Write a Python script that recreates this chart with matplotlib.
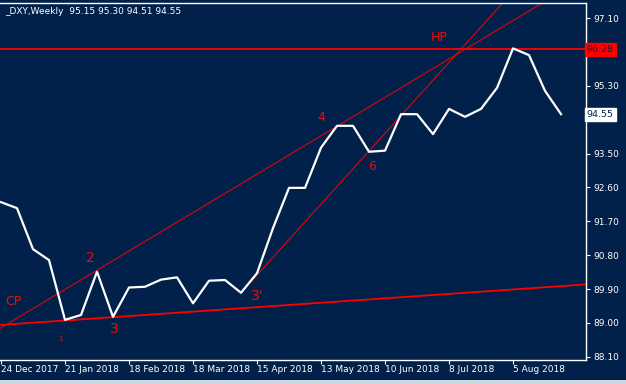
import numpy as np
import matplotlib.pyplot as plt
from matplotlib.patches import Rectangle

# Weekly DXY closes, week 0 = 24 Dec 2017
closes = [92.21, 92.05, 90.96, 90.67, 89.08, 89.21, 90.36, 89.16, 89.94, 89.96,
          90.15, 90.21, 89.52, 90.12, 90.14, 89.80, 90.32, 91.52, 92.59, 92.59,
          93.66, 94.24, 94.24, 93.55, 93.58, 94.55, 94.55, 94.02, 94.69, 94.48,
          94.69, 95.25, 96.30, 96.12, 95.17, 94.55]
date_labels = ["24 Dec 2017", "21 Jan 2018", "18 Feb 2018", "18 Mar 2018", "15 Apr 2018",
               "13 May 2018", "10 Jun 2018", "8 Jul 2018", "5 Aug 2018"]
price_ticks = [88.10, 89.00, 89.90, 90.80, 91.70, 92.60, 93.50, 94.40, 95.30, 96.20, 97.10]
# 94.40 and 96.20 sit under the price boxes, so their labels are not seen
hidden_ticks = [94.40, 96.20]

# hand drawn lines (week, price) anchors
support_pts = [(0, 88.945), (36, 90.006)]
upper_pts = [(6, 90.40), (21, 94.23)]
steep_pts = [(15, 89.80), (23, 93.57)]
hp_level = 96.28

# marks written on the chart: (text, week, price, size)
marks = [("CP", 0.75, 89.58, 9), ("1", 3.7, 88.58, 5), ("2", 5.6, 90.72, 10),
         ("3", 7.1, 88.84, 10), ("3'", 16.0, 89.71, 10), ("4", 20.0, 94.47, 9),
         ("6", 23.2, 93.17, 9), ("HP", 27.4, 96.58, 9)]

bg = '#02214a'
fg = '#ffffff'

fig = plt.figure(figsize=(6.26, 3.84), dpi=100, facecolor=bg)
fig.patches.append(Rectangle((0, 0), 1, 4 / 384, transform=fig.transFigure,
                             facecolor='#cdd8e3', edgecolor='none'))
ax = fig.add_axes([0, 24.5 / 384, 585.5 / 626, 357 / 384])
ax.set_facecolor(bg)

weeks = np.arange(len(closes))
ax.plot(weeks, closes, color='white', lw=1.6, zorder=3)


def extend(pts, x0, x1):
    (xa, ya), (xb, yb) = pts
    k = (yb - ya) / (xb - xa)
    return [x0, x1], [ya + k * (x0 - xa), ya + k * (x1 - xa)]


xs, ys = extend(support_pts, -1, 40)
ax.plot(xs, ys, color='red', lw=1.3, zorder=2)
xs, ys = extend(upper_pts, -1, 40)
ax.plot(xs, ys, color='red', lw=0.7, zorder=2)
xs, ys = extend(steep_pts, steep_pts[0][0], 40)
ax.plot(xs, ys, color='red', lw=0.7, zorder=2)
ax.axhline(hp_level, color='red', lw=1.3, zorder=2)

for txt, x, y, s in marks:
    ax.text(x, y, txt, color='#e01010', fontsize=s, ha='center', va='center', zorder=4)

ax.set_xlim(-0.0625, 36.53)
ax.set_ylim(88.0255, 97.52)

ax.set_xticks(np.arange(0, 36, 4))
ax.set_xticklabels(date_labels)
for lab in ax.get_xticklabels():
    lab.set_ha('left')
ax.yaxis.tick_right()
ax.set_yticks(price_ticks)
ax.set_yticklabels(["" if p in hidden_ticks else f"{p:.2f}" for p in price_ticks])
ax.tick_params(axis='both', colors=fg, labelcolor=fg, labelsize=6.5, length=3,
               width=0.8, direction='out')
ax.tick_params(axis='x', pad=1)
ax.tick_params(axis='y', pad=3)

for side in ['top', 'right', 'bottom']:
    ax.spines[side].set_color(fg)
    ax.spines[side].set_linewidth(1)
ax.spines['left'].set_visible(False)

# price labels on the scale
ax.annotate("96.28", xy=(1.002, hp_level), xycoords=('axes fraction', 'data'),
            ha='left', va='center', fontsize=6.8, color='#02214a', annotation_clip=False,
            bbox=dict(boxstyle='square,pad=0.2', fc='red', ec='red'), zorder=5)
ax.annotate(f"{closes[-1]:.2f}", xy=(1.002, closes[-1]), xycoords=('axes fraction', 'data'),
            ha='left', va='center', fontsize=6.8, color='#02214a', annotation_clip=False,
            bbox=dict(boxstyle='square,pad=0.2', fc='white', ec='white'), zorder=5)

ax.text(0.008, 0.975, "_DXY,Weekly  95.15 95.30 94.51 94.55", transform=ax.transAxes,
        color=fg, fontsize=6.5, ha='left', va='center')

fig.savefig("out.png", dpi=100, facecolor=bg)
